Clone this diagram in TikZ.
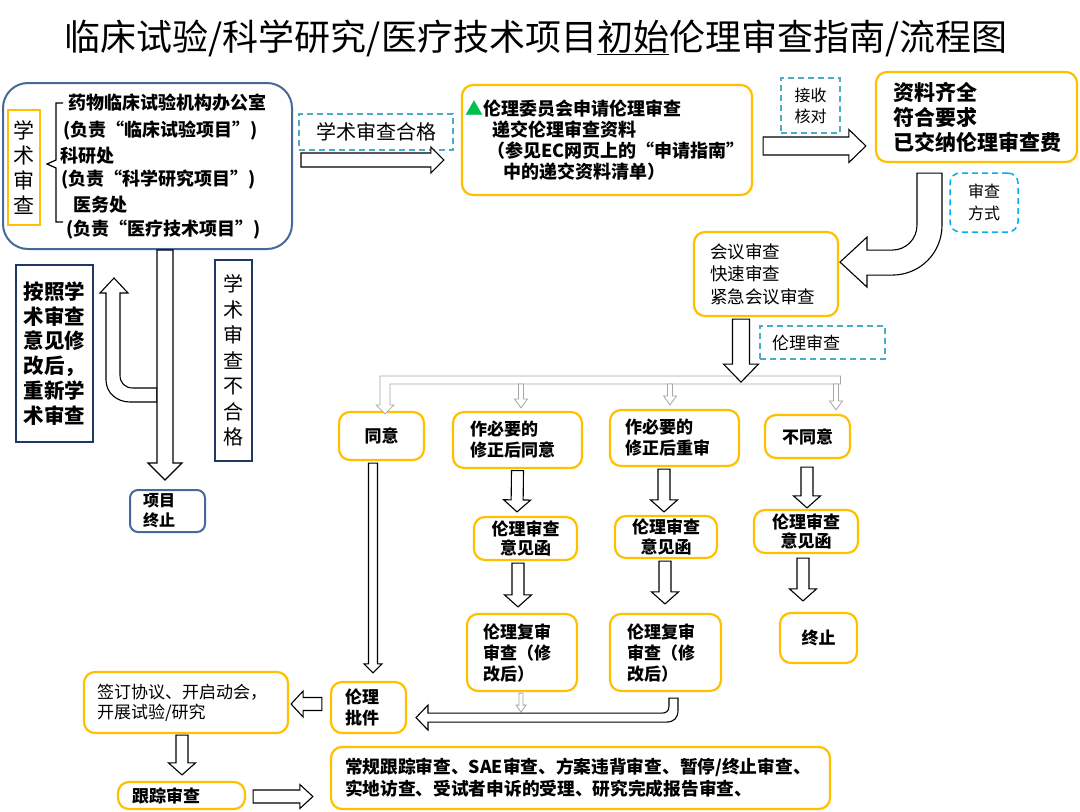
\documentclass[tikz,border=0pt]{standalone}
\usepackage{fontspec}
\setmainfont{Noto Sans CJK SC}
\usetikzlibrary{calc}

\definecolor{boxyel}{HTML}{FFC000}
\definecolor{steel}{HTML}{46699A}
\definecolor{navy}{HTML}{1F3864}
\definecolor{dashblue}{HTML}{4BACC6}
\definecolor{skyblue}{HTML}{00B0F0}
\definecolor{bargray}{HTML}{A6A6A6}
\definecolor{trigreen}{HTML}{00C050}

% hollow block arrow: [style]{tail}{tip}{half shaft}{half head}{head length}
\newcommand{\blkarrow}[6][blk]{%
  \coordinate (bt) at (#2);
  \coordinate (bh) at (#3);
  \coordinate (bb) at ($(bh)!#6!(bt)$);
  \draw[#1] ($(bt)!#4!90:(bh)$) -- ($(bb)!#4!-90:(bt)$) -- ($(bb)!#5!-90:(bt)$) -- (bh)
    -- ($(bb)!#5!90:(bt)$) -- ($(bb)!#4!90:(bt)$) -- ($(bt)!#4!-90:(bh)$) -- cycle;
}

\begin{document}
\begin{tikzpicture}[x=1pt, y=-1pt,
  blk/.style={draw=black, fill=white, line width=1.1pt},
  thinblk/.style={draw=bargray, fill=white, line width=0.8pt},
  ybox/.style={draw=boxyel, line width=2.2pt, rounded corners=11pt, fill=white, inner ysep=0pt},
  nbox/.style={draw=navy, line width=2.2pt, fill=white, inner sep=0pt, align=center},
  dbox/.style={draw=dashblue, line width=1.5pt, dash pattern=on 6pt off 4pt, inner sep=0pt},
  dept/.style={anchor=west, inner sep=0pt, font=\fontsize{18}{22}\selectfont\bfseries},
  big/.style={font=\fontsize{17}{21}\selectfont\bfseries}]

\useasboundingbox (0,0) rectangle (1080,812);
\fill[white] (0,0) rectangle (1080,812);

% Title
\node[font=\fontsize{36}{40}\selectfont] (title) at (536,38) {临床试验/科学研究/医疗技术项目\underline{初始}伦理审查指南/流程图};

% Academic review box
\node[draw=steel, line width=2pt, rounded corners=25pt, minimum width=289pt, minimum height=166pt] (acad) at (147.5,166) {};
\node[draw=boxyel, line width=1.5pt, minimum width=32pt, minimum height=115pt, inner sep=0pt, align=center, font=\fontsize{21}{25}\selectfont] (acadtag) at (24,167.5) {学\\术\\审\\查};
\draw[line width=1.2pt] (63,103) -- (56,103) -- (56,160) -- (47,164) -- (56,168) -- (56,222) -- (63,222);
\node[dept] (dept1) at (68,103) {药物临床试验机构办公室};
\node[dept] (dept1r) at (63,131) {(负责“临床试验项目”)};
\node[dept] (dept2) at (60,156) {科研处};
\node[dept] (dept2r) at (61,180) {(负责“科学研究项目”)};
\node[dept] (dept3) at (73,205) {医务处};
\node[dept] (dept3r) at (66,230) {(负责“医疗技术项目”)};

% Submission and intake
\node[dbox, minimum width=154pt, minimum height=36pt, font=\fontsize{20}{24}\selectfont] (pass) at (376,132) {学术审查合格};
\node[ybox, minimum width=290pt, minimum height=110pt, text width=284pt, inner xsep=3pt, align=left, font=\fontsize{18}{21}\selectfont\bfseries] (apply) at (607,140)
  {{\color{trigreen}▲}伦理委员会申请伦理审查\\
   \hspace*{27pt}递交伦理审查资料\\
   \hspace*{22pt}（参见EC网页上的“申请指南”\\
   \hspace*{38pt}中的递交资料清单）};
\node[dbox, minimum width=59pt, minimum height=55pt, align=center, font=\fontsize{16}{21}\selectfont] (recv) at (810.5,105.5) {接收\\核对};
\node[ybox, minimum width=201pt, minimum height=90pt, text width=167pt, inner xsep=17pt, align=left, font=\fontsize{21}{25}\selectfont\bfseries] (docs) at (976.5,117) {资料齐全\\符合要求\\已交纳伦理审查费};
\node[draw=skyblue, line width=1.5pt, dash pattern=on 6pt off 4pt, rounded corners=10pt, minimum width=68pt, minimum height=59pt, inner sep=0pt, align=center, font=\fontsize{16}{22}\selectfont] (modelbl) at (984,202.5) {审查\\方式};
\node[ybox, minimum width=144pt, minimum height=84pt, text width=112pt, inner xsep=16pt, align=left, font=\fontsize{17.5}{22.5}\selectfont] (modes) at (766,274) {会议审查\\快速审查\\紧急会议审查};
\node[dbox, minimum width=125pt, minimum height=33pt, text width=101pt, inner xsep=12pt, align=left, font=\fontsize{17}{21}\selectfont] (ethlbl) at (822.5,342.5) {伦理审查};

% Decisions
\node[ybox, minimum width=85pt, minimum height=48pt, big] (agree) at (381.5,436) {同意};
\node[ybox, minimum width=129pt, minimum height=56pt, text width=95pt, inner xsep=17pt, align=left, big] (cond1) at (517.5,440) {作必要的\\修正后同意};
\node[ybox, minimum width=129pt, minimum height=56pt, text width=99pt, inner xsep=15pt, align=left, big] (cond2) at (674.5,438) {作必要的\\修正后重审};
\node[ybox, minimum width=85pt, minimum height=43pt, big] (reject) at (807.5,436.5) {不同意};

\node[ybox, minimum width=103pt, minimum height=43pt, align=center, font=\fontsize{17}{19.5}\selectfont\bfseries] (letter1) at (525.5,538.5) {伦理审查\\意见函};
\node[ybox, minimum width=102pt, minimum height=42pt, align=center, font=\fontsize{17}{19.5}\selectfont\bfseries] (letter2) at (666,537) {伦理审查\\意见函};
\node[ybox, minimum width=104pt, minimum height=43pt, align=center, font=\fontsize{17}{19.5}\selectfont\bfseries] (letter3) at (806,531.5) {伦理审查\\意见函};

\node[ybox, minimum width=110pt, minimum height=77pt, text width=78pt, inner xsep=16pt, align=left, big] (re1) at (522,652.5) {伦理复审\\审查（修\\改后）};
\node[ybox, minimum width=111pt, minimum height=77pt, text width=77pt, inner xsep=17pt, align=left, big] (re2) at (665.5,652.5) {伦理复审\\审查（修\\改后）};
\node[ybox, minimum width=77pt, minimum height=50pt, big] (stop) at (818.5,638) {终止};

% Approval and follow-up
\node[ybox, minimum width=75pt, minimum height=51pt, text width=47pt, inner xsep=14pt, align=left, big] (approve) at (368.5,707.5) {伦理\\批件};
\node[ybox, minimum width=204pt, minimum height=61pt, text width=178pt, inner xsep=13pt, align=left, font=\fontsize{17}{20}\selectfont] (sign) at (186,702.5) {签订协议、开启动会，\\开展试验/研究};
\node[ybox, minimum width=127pt, minimum height=27pt, text width=99pt, inner xsep=14pt, align=left, big] (track) at (181.5,795.5) {跟踪审查};
\node[ybox, minimum width=499pt, minimum height=62pt, text width=471pt, inner xsep=14pt, align=left, font=\fontsize{17.7}{22}\selectfont\bfseries] (others) at (580.5,778)
  {常规跟踪审查、SAE审查、方案违背审查、暂停/终止审查、\\实地访查、受试者申诉的受理、研究完成报告审查、};

% Academic review failed
\node[nbox, minimum width=77pt, minimum height=177pt, font=\fontsize{20.5}{24.8}\selectfont\bfseries] (redo) at (54.5,353.5) {按照学\\术审查\\意见修\\改后，\\重新学\\术审查};
\node[nbox, minimum width=37pt, minimum height=201pt, font=\fontsize{20}{25.5}\selectfont] (fail) at (233.5,360.5) {学\\术\\审\\查\\不\\合\\格};
\node[draw=steel, line width=2pt, rounded corners=8pt, minimum width=75pt, minimum height=42pt, text width=49pt, inner xsep=13pt, inner ysep=0pt, align=left, font=\fontsize{16}{20}\selectfont\bfseries] (halt) at (167.5,511) {项目\\终止};

% Draw the arrows
\blkarrow{$(acad.east)+(8,-6)$}{$(apply.west)+(-17,20)$}{7pt}{13pt}{13pt}
\blkarrow{$(apply.east)+(10,6)$}{$(docs.west)+(-9,29)$}{9pt}{16.5pt}{17pt}

% Bent arrow to review modes
\draw[blk] ($(docs.south)+(-59.5,10)$) -- ++(0,52) .. controls +(0,14) and +(14,0) .. ++(-25,25)
  -- ++(-25,0) -- ++(0,-13) -- ++(-27,25) -- ++(27,25) -- ++(0,-12) -- ++(25,0)
  .. controls +(28,0) and +(0,28) .. ++(50,-50) -- ++(0,-52) -- cycle;

% Split bar
\coordinate (barL) at ($(agree.north)+(-1.5,-35)$);
\coordinate (barR) at ($(reject.north)+(33,-38)$);
\draw[thinblk] (barL) -- (barR) -- ++(0,8) -- ($(barL)+(10,8)$) -- ++(0,21) -- ++(4,0) -- ++(-9,9) -- ++(-9,-9) -- ++(4,0) -- cycle;
\blkarrow[thinblk]{$(cond1.north)+(3.5,-27)$}{$(cond1.north)+(3.5,-3)$}{2.5pt}{6.5pt}{9pt}
\blkarrow[thinblk]{$(cond2.north)+(-4.5,-25)$}{$(cond2.north)+(-4.5,-4)$}{2.5pt}{6.5pt}{9pt}
\blkarrow[thinblk]{$(reject.north)+(28.5,-30)$}{$(reject.north)+(28.5,-4)$}{2.5pt}{6.5pt}{9pt}
\blkarrow{$(modes.south)+(-25,2)$}{$(modes.south)+(-25,65)$}{8.5pt}{17.5pt}{18pt}

% Decision branches
\blkarrow{$(agree.south)+(-8.5,2)$}{$(approve.north)+(4.5,-8)$}{4.5pt}{9pt}{9pt}
\blkarrow{$(cond1.south)+(0,1.5)$}{$(letter1.north)+(-8.5,-4)$}{6pt}{13.5pt}{12pt}
\blkarrow{$(cond2.south)+(-10.5,2)$}{$(letter2.north)+(-2,-3)$}{6pt}{13.5pt}{12pt}
\blkarrow{$(reject.south)+(-0.5,8)$}{$(letter3.north)+(1,-1)$}{6pt}{13.5pt}{12pt}
\blkarrow{$(letter1.south)+(-7.5,2)$}{$(re1.north)+(-4,-6)$}{6pt}{13.5pt}{12pt}
\blkarrow{$(letter2.south)+(-1,2)$}{$(re2.north)+(-0.5,-9)$}{6pt}{13.5pt}{12pt}
\blkarrow{$(letter3.south)+(-3,4)$}{$(stop.north)+(-15.5,-11)$}{6pt}{13.5pt}{12pt}

% Back to approval
\blkarrow[thinblk]{$(re1.south)+(-1,1)$}{$(re1.south)+(-1,20)$}{2pt}{5pt}{7pt}
\draw[blk] ($(re2.south)+(3.5,6)$) -- ++(0,8) .. controls +(0,5) and +(4,0) .. ++(-7,7)
  -- ++(-234,0) -- ++(0,-8) -- ++(-12,12.5) -- ++(12,12.5) -- ++(0,-8) -- ++(238,0)
  .. controls +(8,0) and +(0,8) .. ++(12,-12) -- ++(0,-12) -- cycle;

% Follow-up
\blkarrow{$(approve.west)+(-8,-3.5)$}{$(sign.east)+(2,1.5)$}{6.5pt}{13pt}{12pt}
\blkarrow{$(sign.south)+(-4,1)$}{$(track.north)+(0.5,-6)$}{6pt}{13.5pt}{12pt}
\blkarrow{$(track.east)+(7,1)$}{$(others.west)+(-17,18.5)$}{6.5pt}{12pt}{13pt}

% Failed review: resubmit or stop
\draw[blk] ($(acad.south)+(9.5,138)$) -- ++(-24,0) .. controls +(-8,0) and +(0,8) .. ++(-13,-13)
  -- ++(0,-82) -- ++(8,0) -- ++(-14,-15) -- ++(-14,15) -- ++(6,0) -- ++(0,87)
  .. controls +(0,13) and +(-13,0) .. ++(24,22) -- ++(27,0) -- cycle;
\blkarrow{$(acad.south)+(17.5,0)$}{$(halt.north)+(-2.5,-9)$}{8pt}{17pt}{17pt}

\end{tikzpicture}
\end{document}
